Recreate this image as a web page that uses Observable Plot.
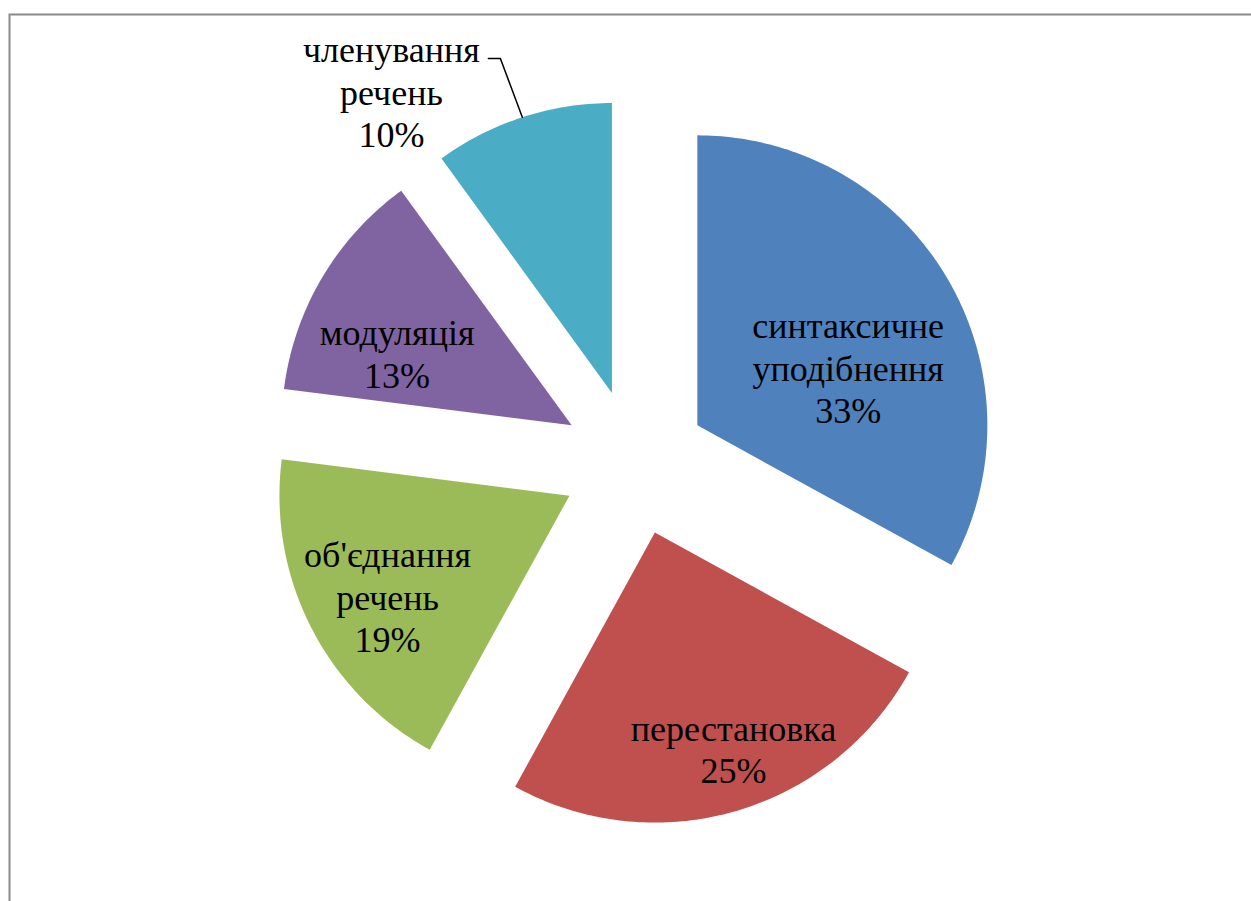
<!DOCTYPE html>
<html><head><meta charset="utf-8">
<script src="https://cdn.jsdelivr.net/npm/d3@7"></script>
<script src="https://cdn.jsdelivr.net/npm/@observablehq/plot@0.6"></script>
<style>html,body{margin:0;padding:0;background:#fff;overflow:hidden}</style>
</head><body><div id="chart"></div>
<script>
// ---- data ----
const categories = ["синтаксичне уподібнення", "перестановка", "об'єднання речень", "модуляція", "членування речень"];
const labelLines = [["синтаксичне", "уподібнення"], ["перестановка"], ["об'єднання", "речень"], ["модуляція"], ["членування", "речень"]];
const values = [33, 25, 19, 13, 10];
const colors = ["#4F81BD", "#C0504D", "#9BBB59", "#8064A2", "#4BACC6"];

// ---- layout ----
const W = 1251, H = 901;
const cx = 634, cy = 462;     // pie centre (pixels)
const R = 290;                // radius
const explode = 73;           // explosion offset
// label placement: radius factor (of R, from centre) and angle shift (deg) from bisector
const labelPlace = [
  {k: 0.807, da: 6.5},
  {k: 1.044, da: -2.9},
  {k: 0.968, da: -1.4},
  {k: 0.902, da: -5.8},
  {k: 1.531, da: -15.2, outside: true}
];

const total = d3.sum(values);
const arcs = d3.pie().sort(null).value(d => d)(values);
const dir = a => [Math.sin(a), -Math.cos(a)];

const slicePts = [];
const labels = [];
const leader = [];
arcs.forEach((a, i) => {
  const mid = (a.startAngle + a.endAngle) / 2;
  const [ux, uy] = dir(mid);
  const ax = ux * explode, ay = uy * explode;
  slicePts.push({x: ax, y: ay, cat: categories[i]});
  const n = Math.max(8, Math.ceil((a.endAngle - a.startAngle) * 60));
  for (let j = 0; j <= n; j++) {
    const t = a.startAngle + (a.endAngle - a.startAngle) * j / n;
    const [dx, dy] = dir(t);
    slicePts.push({x: ax + R * dx, y: ay + R * dy, cat: categories[i]});
  }
  const p = labelPlace[i];
  const la = mid + p.da * Math.PI / 180;
  const [lx, ly] = dir(la);
  const pos = {x: lx * R * p.k, y: ly * R * p.k};
  const pct = Math.round(values[i] / total * 100) + "%";
  labels.push({...pos, text: [...labelLines[i], pct].join("\n")});
  if (p.outside) {
    leader.push({x: ux * (R + explode), y: uy * (R + explode)});
    leader.push({x: pos.x + 109, y: pos.y - 32.5});
    leader.push({x: pos.x + 97, y: pos.y - 32.5});
  }
});

const chart = Plot.plot({
  width: W, height: H,
  margin: 0,
  x: {domain: [-cx, W - cx], range: [0, W], axis: null},
  y: {domain: [-cy, H - cy], range: [0, H], axis: null},
  color: {domain: categories, range: colors},
  style: {background: "#fff", fontFamily: "'Liberation Serif', serif"},
  marks: [
    Plot.frame({stroke: "#8a8a8a", strokeWidth: 2, insetLeft: 9, insetTop: 14, insetRight: -20, insetBottom: -20}),
    Plot.line(slicePts, {x: "x", y: "y", z: "cat", fill: "cat", stroke: "none", curve: "linear-closed"}),
    Plot.line(leader, {x: "x", y: "y", stroke: "black", strokeWidth: 1.5}),
    Plot.text(labels, {x: "x", y: "y", text: "text", fontSize: 36, fontFamily: "Liberation Serif", lineHeight: 1.18, fill: "black"})
  ]
});
document.getElementById("chart").appendChild(chart);
</script>
</body></html>
